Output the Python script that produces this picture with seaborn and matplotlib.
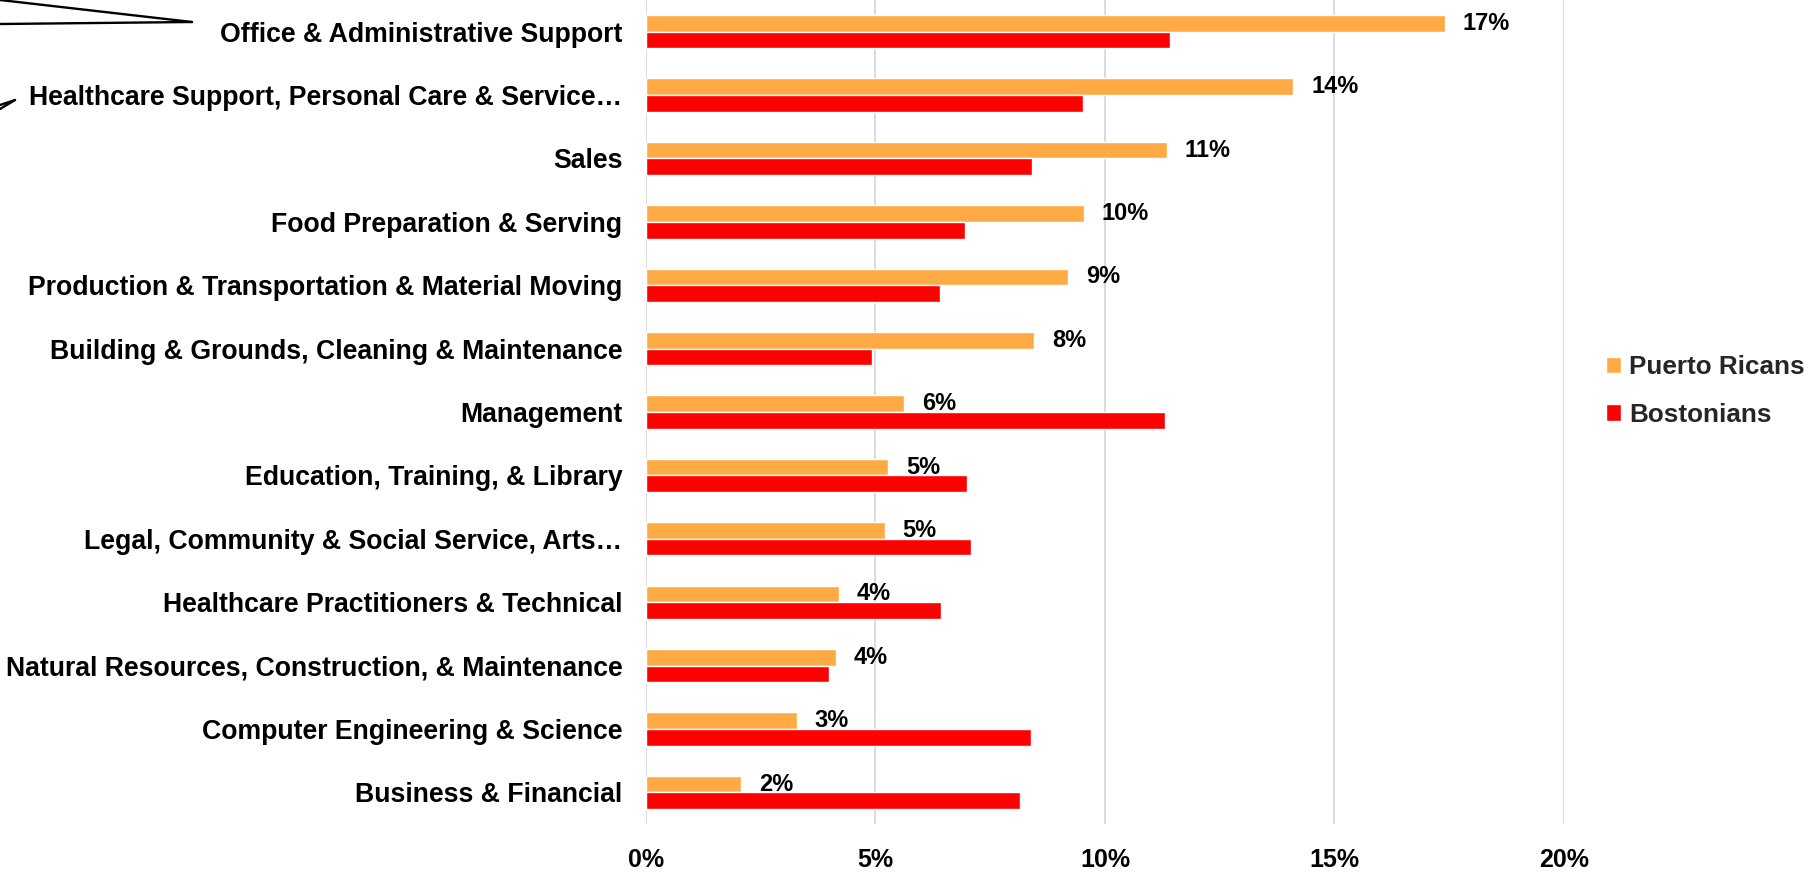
import pandas as pd
import seaborn as sns
import matplotlib.pyplot as plt
from matplotlib.lines import Line2D
from matplotlib.ticker import PercentFormatter

# occupations, top to bottom
categories = [
    "Office & Administrative Support",
    "Healthcare Support, Personal Care & Service…",
    "Sales",
    "Food Preparation & Serving",
    "Production & Transportation & Material Moving",
    "Building & Grounds, Cleaning & Maintenance",
    "Management",
    "Education, Training, & Library",
    "Legal, Community & Social Service, Arts…",
    "Healthcare Practitioners & Technical",
    "Natural Resources, Construction, & Maintenance",
    "Computer Engineering & Science",
    "Business & Financial",
]
puerto_ricans = [0.174, 0.141, 0.1135, 0.0954, 0.092, 0.0846, 0.0563,
                 0.0528, 0.052, 0.042, 0.0414, 0.0328, 0.0207]
bostonians = [0.1142, 0.0952, 0.0842, 0.0695, 0.064, 0.0493, 0.113,
              0.070, 0.0709, 0.0642, 0.0399, 0.0838, 0.0814]
groups = ["Puerto Ricans", "Bostonians"]
x_ticks = [0, 0.05, 0.10, 0.15, 0.20]


def build_frame():
    """Long-form table for seaborn."""
    df = pd.DataFrame({
        "Occupation": categories * 2,
        "Share": puerto_ricans + bostonians,
        "Group": [groups[0]] * len(categories) + [groups[1]] * len(categories),
    })
    return df


def draw(df):
    sns.set_theme(style="white")
    plt.rcParams["font.family"] = ["Liberation Sans", "DejaVu Sans"]
    plt.rcParams["font.weight"] = "bold"

    fig = plt.figure(figsize=(18.12, 8.72), dpi=100)
    ax = fig.add_axes([0.3565, 0.055, 0.5066, 0.945])

    sns.barplot(data=df, x="Share", y="Occupation", hue="Group",
                hue_order=groups, order=categories,
                palette={"Puerto Ricans": "#FFAA44", "Bostonians": "#FF0000"},
                width=0.526, saturation=1, orient="h", ax=ax)

    # labels only on the Puerto Rican bars
    ax.bar_label(ax.containers[0], labels=[f"{v:.0%}" for v in puerto_ricans],
                 padding=13, fontsize=17, fontweight="bold", color="black")

    ax.set_xlim(0, 0.20)
    ax.set_xticks(x_ticks)
    ax.xaxis.set_major_formatter(PercentFormatter(1.0, decimals=0))
    ax.set_xlabel("")
    ax.set_ylabel("")
    ax.grid(axis="x", color="#D9D9D9", linewidth=1.3)
    ax.grid(axis="y", visible=False)
    ax.set_axisbelow(True)
    sns.despine(ax=ax, top=True, right=True, left=True, bottom=True)

    ax.tick_params(axis="y", length=0, pad=17, labelsize=19.2)
    ax.tick_params(axis="x", length=0, pad=17, labelsize=18)
    for t in ax.get_yticklabels() + ax.get_xticklabels():
        t.set_fontweight("bold")
        t.set_color("black")

    ax.legend(loc="center left", bbox_to_anchor=(1606 / 1812, 1 - 391 / 872),
              bbox_transform=fig.transFigure, frameon=False,
              prop={"size": 18.8, "weight": "bold"},
              handlelength=0.58, handleheight=0.58, handletextpad=0.3,
              labelspacing=0.9, borderpad=0, borderaxespad=0)

    # leftover callout lines from the slide, top-left corner
    def px(x, y):
        return x / 1812, 1 - y / 872
    for (x0, y0), (x1, y1) in [((0, 0), (192, 22)), ((0, 24), (192, 22)),
                               ((0, 109), (15, 100)), ((0, 105), (15, 100))]:
        a, b = px(x0, y0)
        c, d = px(x1, y1)
        fig.add_artist(Line2D([a, c], [b, d], color="black", linewidth=1.7,
                              transform=fig.transFigure))

    fig.savefig("out.png", dpi=100)
    plt.close(fig)


if __name__ == "__main__":
    draw(build_frame())
